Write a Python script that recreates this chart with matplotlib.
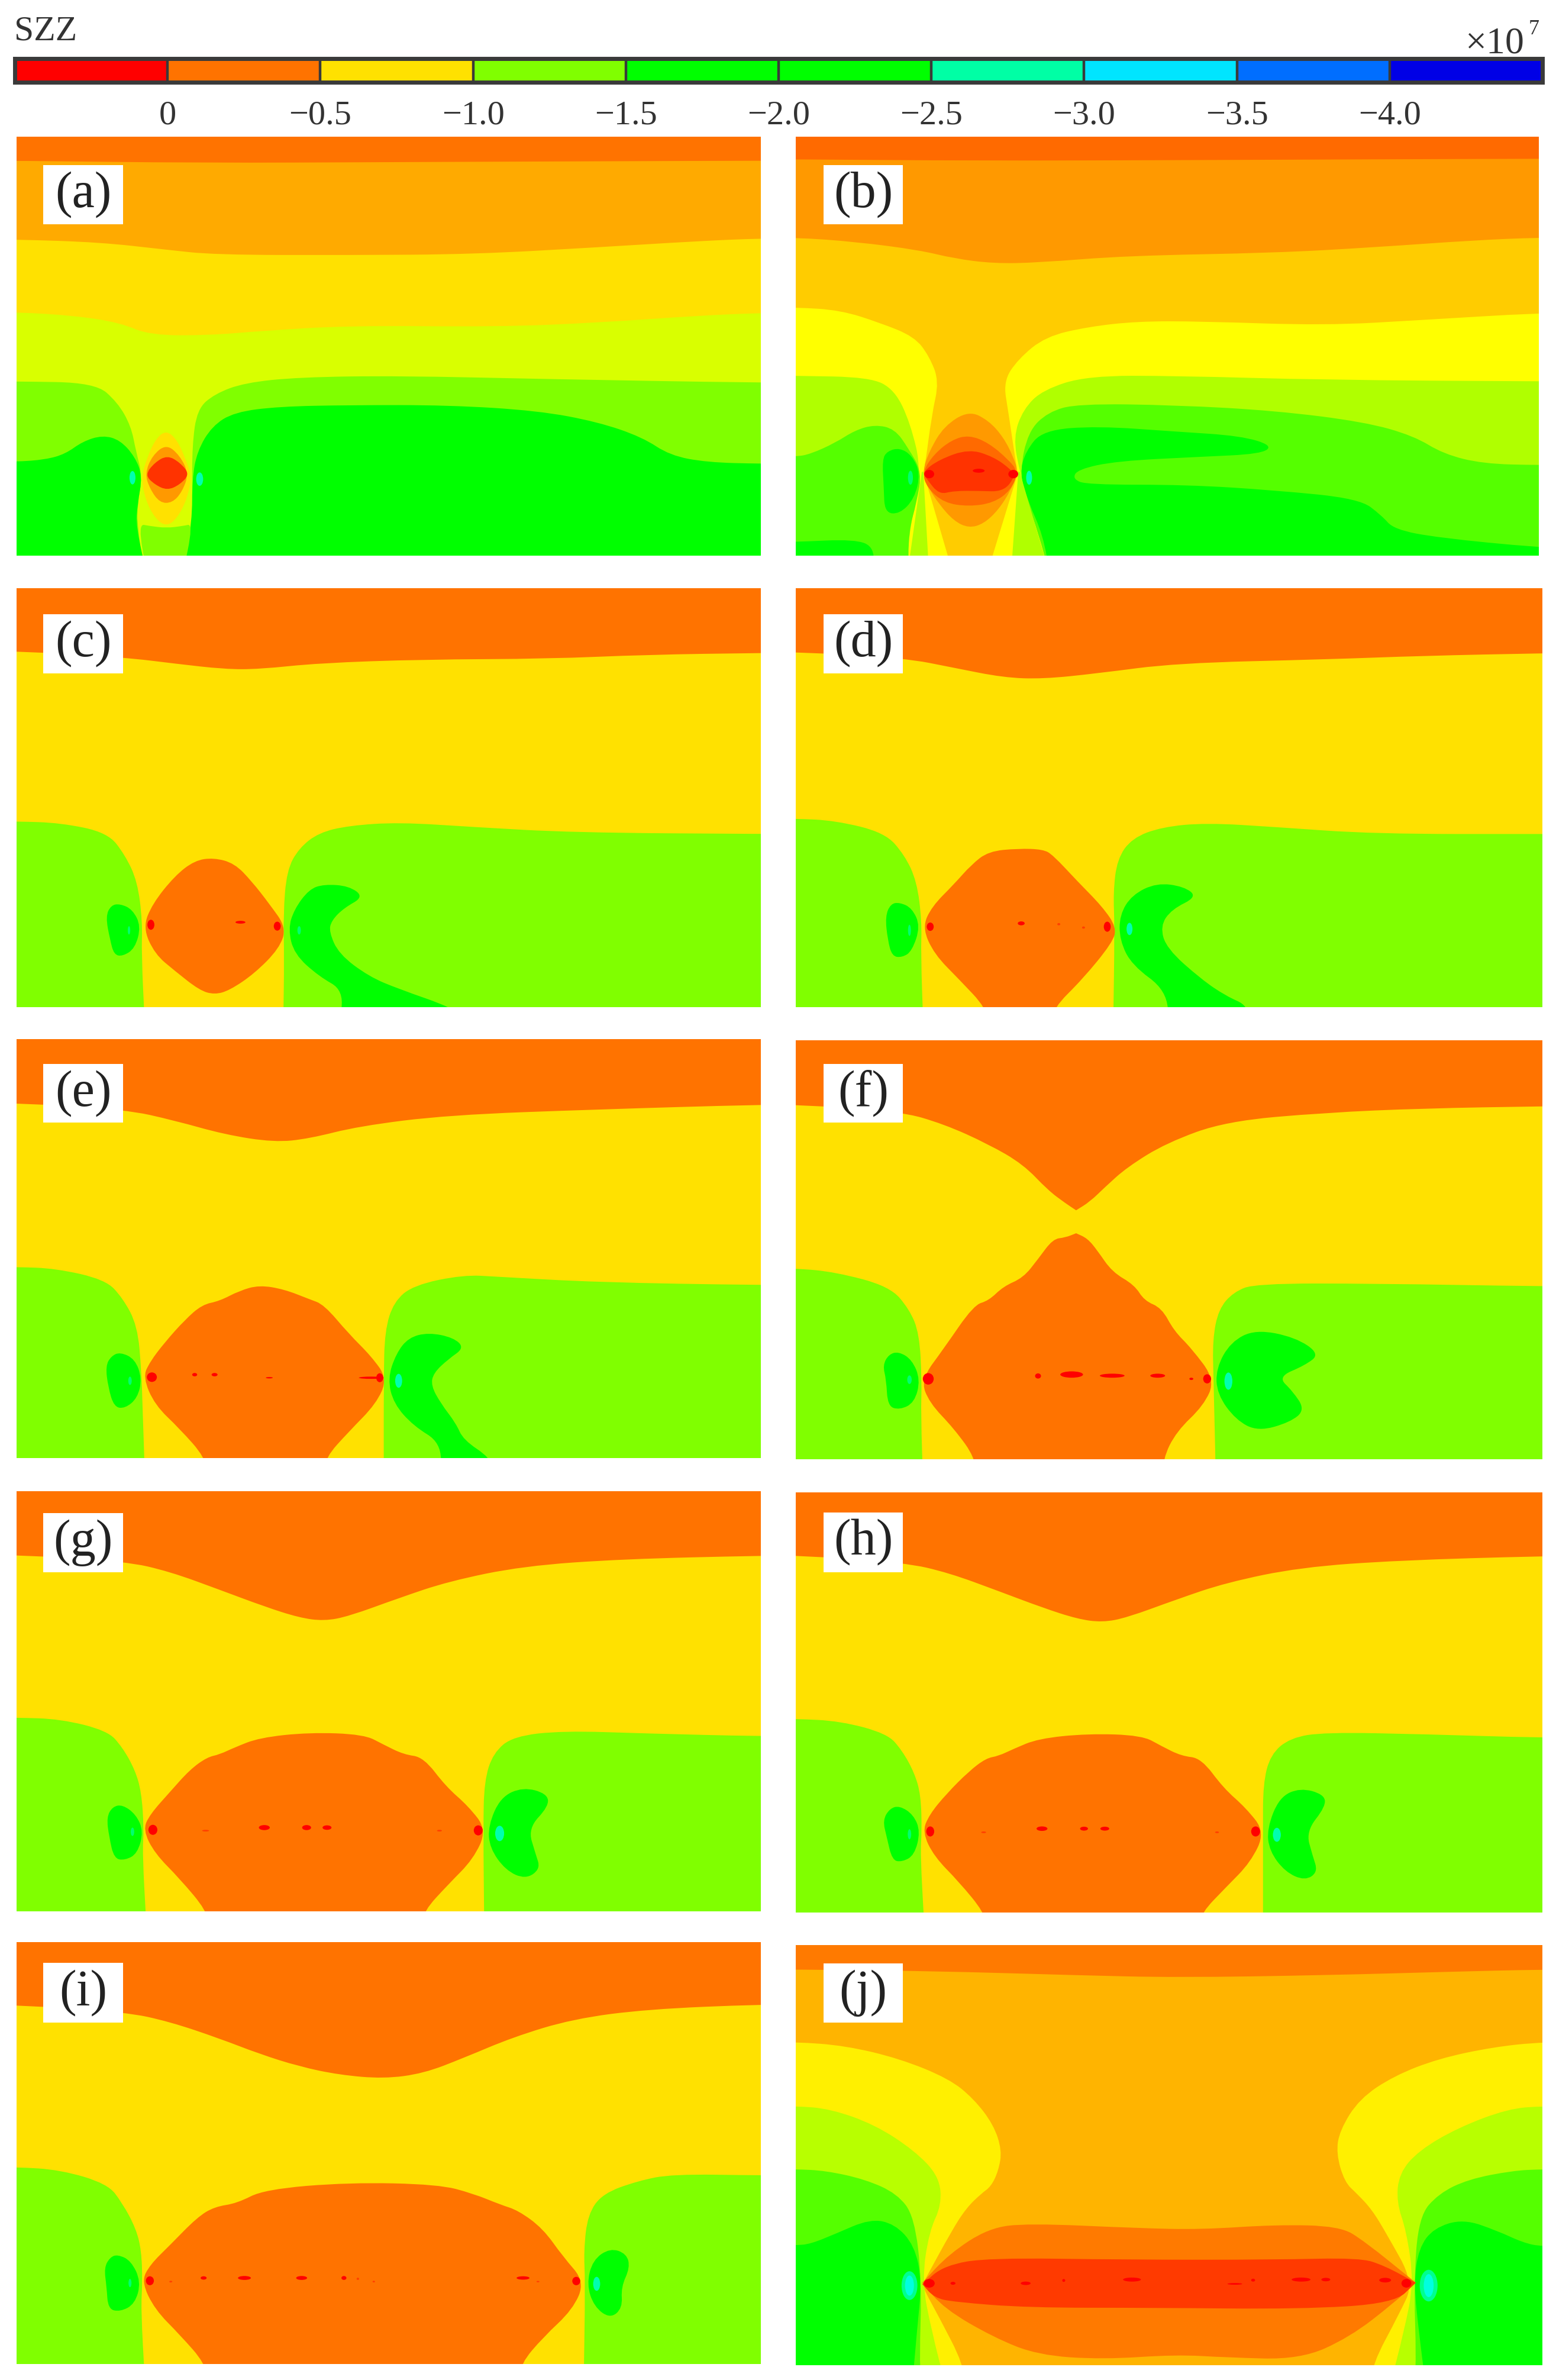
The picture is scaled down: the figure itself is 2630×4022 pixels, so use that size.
import matplotlib
matplotlib.use("Agg")
import matplotlib.pyplot as plt
from matplotlib.path import Path
from matplotlib.patches import PathPatch, Rectangle, Ellipse

plt.rcParams['font.family'] = ['Liberation Serif', 'DejaVu Serif']

W, H = 2630, 4022

# colour bar
cb_edges = [0.5, 0.0, -0.5, -1.0, -1.5, -2.0, -2.5, -3.0, -3.5, -4.0, -4.5]
cb_ticks = [0.0, -0.5, -1.0, -1.5, -2.0, -2.5, -3.0, -3.5, -4.0]
cb_labels = ['0', '\u22120.5', '\u22121.0', '\u22121.5', '\u22122.0', '\u22122.5', '\u22123.0', '\u22123.5', '\u22124.0']
cb_colors = ['#ff0000', '#ff7300', '#ffe100', '#80ff00', '#00ff00', '#00ff00', '#00ffa5', '#00e5ff', '#006eff', '#0000e6']

ORANGE = '#ff7300'
YELLOW = '#ffe100'
LIME = '#80ff00'
GREEN = '#00ff00'
RED = '#ff0000'
CYAN = '#00ffb0'
SOFT = '#00ff70'

# panel a
a_band1 = [(-100, 110), (32, 110), (400, 118), (800, 115), (1200, 112), (1528, 110), (1700, 110), (1700, 1700), (-100, 1700)]
a_band2 = [(-100, 390), (32, 392), (200, 402), (330, 428), (430, 447), (700, 448), (950, 445), (1200, 420), (1400, 398), (1528, 388), (1700, 385), (1700, 1700), (-100, 1700)]
a_band3 = [(-100, 650), (32, 652), (150, 665), (240, 690), (300, 735), (420, 735), (520, 720), (700, 700), (1000, 705), (1200, 690), (1400, 665), (1528, 655), (1700, 650), (1700, 1700), (-100, 1700)]
a_lime_l = [(-100, 900), (32, 900), (190, 905), (235, 975), (262, 1060), (272, 1150), (285, 1240), (275, 1340), (275, 1420), (290, 1600), (-100, 1700)]
a_lime_r = [(1700, 905), (1528, 905), (1100, 892), (800, 880), (600, 885), (490, 905), (430, 945), (395, 1000), (385, 1130), (385, 1300), (385, 1420), (365, 1600), (1700, 1700)]
a_stem = [(276, 1410), (300, 1418), (333, 1425), (366, 1418), (387, 1410), (365, 1600), (295, 1600)]
a_green_l = [(-100, 1190), (32, 1188), (90, 1180), (130, 1160), (165, 1115), (205, 1093), (240, 1110), (270, 1170), (285, 1240), (275, 1340), (272, 1420), (295, 1600), (-100, 1700)]
a_green_r = [(1700, 1197), (1528, 1195), (1420, 1190), (1345, 1165), (1290, 1100), (1200, 1045), (1080, 1005), (900, 985), (700, 985), (560, 990), (470, 1010), (425, 1060), (395, 1150), (385, 1250), (385, 1400), (365, 1600), (1700, 1700)]
a_oval1 = [(333, 1075), (355, 1110), (372, 1180), (384, 1240), (375, 1320), (355, 1390), (333, 1420), (310, 1390), (290, 1320), (283, 1240), (295, 1170), (312, 1105)]
a_oval2 = [(333, 1125), (360, 1165), (378, 1230), (365, 1295), (345, 1335), (320, 1335), (300, 1285), (290, 1230), (305, 1165)]
a_oval3 = [(335, 1165), (360, 1190), (380, 1232), (360, 1270), (335, 1290), (310, 1270), (290, 1235), (310, 1190)]
a_spots = [(265, 1245, 12, 48, CYAN), (400, 1250, 14, 48, CYAN)]

# panel b
b_band1 = [(-100, 105), (30, 105), (400, 110), (800, 108), (1200, 105), (1533, 103), (1700, 103), (1700, 1700), (-100, 1700)]
b_band2 = [(-100, 383), (30, 385), (150, 400), (280, 430), (350, 460), (430, 478), (520, 475), (700, 450), (1000, 440), (1200, 420), (1400, 395), (1533, 385), (1700, 383), (1700, 1700), (-100, 1700)]
b_yellow_l = [(-100, 633), (30, 635), (120, 645), (200, 690), (270, 740), (300, 810), (320, 900), (305, 1020), (290, 1224), (275, 1330), (295, 1600), (-100, 1700)]
b_yellow_r = [(1700, 650), (1533, 655), (1300, 680), (1100, 700), (850, 685), (720, 685), (620, 705), (535, 740), (480, 820), (450, 900), (460, 1010), (478, 1224), (490, 1340), (470, 1600), (1700, 1700)]
b_ygreen_l = [(-100, 878), (30, 880), (180, 885), (230, 930), (262, 1050), (285, 1224), (258, 1450), (255, 1600), (-100, 1700)]
b_ygreen_r = [(1700, 900), (1533, 900), (1100, 895), (800, 880), (620, 880), (530, 930), (490, 1000), (470, 1100), (483, 1224), (500, 1340), (520, 1440), (545, 1600), (1700, 1700)]
b_lime_l = [(-100, 1172), (30, 1170), (60, 1160), (110, 1120), (150, 1075), (190, 1055), (230, 1070), (258, 1140), (285, 1224), (275, 1330), (258, 1440), (258, 1600), (-100, 1700)]
b_lime_r = [(1700, 1200), (1533, 1200), (1420, 1195), (1340, 1160), (1280, 1095), (1180, 1045), (1000, 1005), (800, 985), (600, 980), (540, 1010), (500, 1080), (483, 1224), (500, 1340), (520, 1440), (545, 1600), (1700, 1700)]
b_green_r = [(495, 1150), (530, 1075), (640, 1060), (800, 1080), (930, 1095), (995, 1130), (970, 1160), (850, 1170), (680, 1185), (600, 1215), (590, 1250), (620, 1270), (820, 1270), (1000, 1290), (1170, 1320), (1215, 1380), (1240, 1430), (1330, 1460), (1533, 1495), (1700, 1510), (1700, 1700), (545, 1600), (530, 1450), (500, 1330), (483, 1230)]
b_green_l = [(240, 1138), (265, 1165), (282, 1230), (270, 1320), (240, 1375), (210, 1370), (208, 1280), (205, 1180), (215, 1150)]
b_green_c = [(-100, 1480), (30, 1475), (150, 1465), (190, 1495), (185, 1600), (-100, 1650)]
b_wedge1 = [(285, 1224), (285, 1224), (255, 1600), (545, 1600), (483, 1224), (483, 1224)]
b_wedge2 = [(288, 1224), (288, 1224), (300, 1600), (465, 1600), (480, 1224), (480, 1224)]
b_wedge3 = [(288, 1224), (288, 1224), (350, 1600), (415, 1600), (480, 1224), (480, 1224)]
b_lens1 = [(380, 1005), (420, 1040), (450, 1100), (470, 1170), (480, 1224), (465, 1290), (440, 1360), (410, 1410), (380, 1425), (350, 1400), (320, 1340), (298, 1280), (286, 1224), (300, 1150), (330, 1060)]
b_lens2 = [(380, 1092), (420, 1120), (460, 1180), (480, 1224), (465, 1290), (430, 1335), (380, 1348), (330, 1335), (295, 1280), (286, 1224), (310, 1160), (345, 1110)]
b_lens3 = [(380, 1142), (430, 1170), (465, 1215), (474, 1240), (450, 1295), (400, 1292), (350, 1292), (320, 1305), (295, 1250), (286, 1225), (320, 1180)]
b_spots = [(300, 1232, 20, 30, RED), (400, 1220, 24, 14, RED), (470, 1232, 20, 30, RED), (262, 1245, 10, 50, SOFT), (502, 1245, 12, 50, CYAN)]

# panel c
c_band = [(-100, 253), (32, 255), (250, 278), (350, 300), (450, 320), (520, 320), (640, 298), (850, 285), (1100, 283), (1300, 268), (1528, 262), (1700, 260), (1700, 1700), (-100, 1700)]
c_lime_l = [(-100, 863), (32, 865), (120, 870), (215, 905), (250, 985), (275, 1080), (285, 1224), (283, 1340), (290, 1600), (-100, 1700)]
c_lime_r = [(1700, 910), (1528, 910), (1150, 905), (950, 885), (800, 868), (700, 880), (640, 905), (600, 960), (575, 1040), (568, 1200), (570, 1350), (568, 1600), (1700, 1700)]
c_lens = [(428, 995), (470, 1015), (505, 1080), (540, 1160), (574, 1245), (560, 1320), (510, 1410), (460, 1470), (430, 1485), (400, 1470), (350, 1400), (310, 1340), (286, 1245), (305, 1160), (350, 1060), (390, 1005)]
c_green_l = [(240, 1160), (265, 1180), (282, 1240), (270, 1320), (245, 1348), (228, 1342), (220, 1290), (211, 1205), (222, 1165)]
c_green_r = [(650, 1090), (700, 1096), (730, 1135), (690, 1175), (665, 1220), (660, 1260), (680, 1340), (740, 1420), (800, 1465), (910, 1533), (960, 1600), (680, 1600), (690, 1470), (640, 1420), (590, 1340), (578, 1250), (590, 1180), (620, 1108)]
c_spots = [(302, 1235, 14, 36, RED), (482, 1226, 20, 10, RED), (556, 1240, 14, 32, RED), (258, 1255, 5, 30, SOFT), (600, 1255, 7, 30, SOFT)]

# panel d
d_band = [(-100, 256), (30, 258), (250, 280), (350, 315), (450, 350), (530, 355), (640, 335), (800, 298), (1100, 285), (1300, 272), (1540, 263), (1700, 260), (1700, 1700), (-100, 1700)]
d_lime_l = [(-100, 853), (30, 855), (110, 862), (210, 905), (250, 985), (275, 1080), (285, 1224), (283, 1340), (288, 1600), (-100, 1700)]
d_lime_r = [(1700, 910), (1540, 910), (1200, 910), (1000, 885), (860, 870), (770, 885), (710, 925), (680, 1000), (672, 1120), (675, 1240), (672, 1600), (1700, 1700)]
d_lens = [(480, 962), (420, 972), (385, 1020), (350, 1090), (305, 1170), (286, 1245), (310, 1340), (360, 1430), (416, 1535), (416, 1600), (550, 1600), (550, 1535), (610, 1430), (670, 1300), (679, 1245), (650, 1170), (600, 1080), (550, 985), (530, 965)]
d_green_l = [(240, 1155), (265, 1175), (282, 1240), (265, 1330), (245, 1352), (225, 1348), (216, 1290), (211, 1205), (222, 1160)]
d_green_r = [(760, 1085), (815, 1098), (842, 1135), (790, 1180), (767, 1240), (780, 1320), (850, 1430), (900, 1490), (945, 1525), (945, 1600), (785, 1600), (780, 1470), (710, 1380), (685, 1290), (685, 1200), (710, 1128)]
d_spots = [(302, 1242, 14, 30, RED), (486, 1230, 14, 14, RED), (660, 1242, 14, 36, RED), (562, 1233, 6, 8, '#ff4000'), (612, 1245, 6, 8, '#ff4000'), (705, 1250, 12, 44, CYAN), (260, 1255, 6, 40, SOFT)]

# panel e
e_band = [(-100, 260), (32, 262), (250, 285), (350, 325), (450, 375), (550, 403), (620, 390), (720, 345), (900, 305), (1200, 285), (1528, 268), (1700, 265), (1700, 1700), (-100, 1700)]
e_lime_l = [(-100, 848), (32, 850), (110, 855), (210, 895), (245, 960), (275, 1060), (283, 1224), (285, 1340), (290, 1600), (-100, 1700)]
e_lime_r = [(1700, 915), (1528, 915), (1200, 905), (1000, 885), (930, 878), (830, 915), (790, 975), (772, 1080), (770, 1250), (770, 1600), (1700, 1700)]
e_lens = [(520, 915), (480, 935), (440, 972), (405, 985), (370, 1040), (330, 1120), (300, 1190), (286, 1245), (310, 1345), (360, 1430), (412, 1535), (412, 1600), (652, 1600), (652, 1535), (700, 1440), (755, 1340), (777, 1250), (745, 1170), (700, 1090), (650, 985), (620, 965), (570, 930)]
e_green_l = [(240, 1155), (270, 1180), (284, 1250), (275, 1320), (250, 1357), (228, 1352), (216, 1280), (211, 1205), (222, 1170)]
e_green_r = [(860, 1085), (910, 1103), (932, 1140), (900, 1180), (870, 1230), (865, 1275), (885, 1340), (915, 1410), (930, 1470), (985, 1535), (995, 1600), (885, 1600), (885, 1480), (830, 1420), (790, 1340), (778, 1250), (795, 1160), (820, 1103)]
e_spots = [(304, 1245, 20, 34, RED), (390, 1236, 10, 12, RED), (430, 1236, 12, 12, RED), (540, 1247, 14, 5, RED), (745, 1247, 50, 8, RED), (762, 1247, 14, 32, RED), (800, 1258, 14, 50, CYAN), (260, 1258, 7, 30, SOFT)]

# panel f
f_band = [(-100, 260), (30, 262), (240, 285), (330, 330), (420, 400), (490, 470), (540, 560), (575, 605), (597, 630), (597, 630), (625, 600), (655, 550), (700, 480), (780, 395), (900, 320), (1100, 290), (1300, 275), (1540, 268), (1700, 265), (1700, 1700), (-100, 1700)]
f_lime_l = [(-100, 830), (30, 832), (110, 845), (220, 895), (260, 975), (280, 1060), (285, 1224), (283, 1340), (288, 1600), (-100, 1700)]
f_lime_r = [(1700, 895), (1540, 895), (1200, 885), (960, 885), (915, 915), (885, 975), (873, 1080), (875, 1224), (880, 1600), (1700, 1700)]
f_lens = [(597, 710), (597, 710), (620, 728), (640, 770), (670, 845), (715, 890), (735, 945), (770, 970), (795, 1050), (830, 1110), (878, 1220), (855, 1310), (800, 1400), (772, 1497), (772, 1600), (395, 1600), (395, 1497), (350, 1390), (300, 1300), (283, 1220), (330, 1110), (390, 960), (420, 945), (450, 895), (490, 865), (520, 800), (550, 730), (575, 725)]
f_green_l = [(238, 1122), (265, 1150), (282, 1220), (270, 1300), (240, 1325), (216, 1312), (213, 1220), (206, 1170), (218, 1132)]
f_green_r = [(960, 1045), (1040, 1072), (1090, 1130), (1060, 1170), (1005, 1210), (1035, 1260), (1060, 1325), (1030, 1368), (965, 1400), (920, 1360), (882, 1270), (880, 1180), (910, 1088)]
f_spots = [(298, 1217, 22, 40, RED), (520, 1207, 12, 18, RED), (588, 1202, 46, 22, RED), (670, 1206, 50, 14, RED), (762, 1206, 30, 14, RED), (830, 1217, 8, 8, RED), (862, 1217, 16, 32, RED), (905, 1225, 16, 60, CYAN), (260, 1220, 9, 30, SOFT)]

# panel g
g_band = [(-100, 268), (32, 270), (250, 293), (340, 330), (440, 395), (530, 455), (600, 495), (650, 507), (700, 490), (800, 425), (900, 365), (1050, 310), (1250, 285), (1528, 273), (1700, 270), (1700, 1700), (-100, 1700)]
g_lime_l = [(-100, 851), (32, 853), (120, 858), (215, 900), (245, 960), (270, 1040), (283, 1120), (288, 1250), (285, 1340), (293, 1600), (-100, 1700)]
g_lime_r = [(1700, 920), (1528, 920), (1300, 910), (1130, 900), (1030, 920), (990, 980), (972, 1080), (970, 1250), (972, 1600), (1700, 1700)]
g_lens = [(620, 906), (520, 925), (470, 960), (440, 985), (415, 995), (380, 1040), (340, 1120), (300, 1200), (286, 1255), (310, 1340), (360, 1430), (415, 1547), (415, 1600), (850, 1600), (850, 1547), (900, 1450), (950, 1360), (977, 1255), (940, 1170), (895, 1100), (850, 995), (810, 985), (770, 950), (730, 913)]
g_green_l = [(245, 1165), (272, 1200), (287, 1260), (275, 1340), (250, 1364), (228, 1358), (218, 1280), (213, 1210), (225, 1172)]
g_green_r = [(1050, 1102), (1098, 1125), (1102, 1170), (1060, 1250), (1075, 1340), (1085, 1395), (1055, 1432), (1015, 1400), (983, 1320), (980, 1240), (1005, 1138)]
g_spots = [(306, 1255, 18, 36, RED), (412, 1258, 14, 6, '#ff4000'), (530, 1247, 22, 18, RED), (615, 1247, 18, 18, RED), (656, 1247, 18, 16, RED), (882, 1258, 10, 6, '#ff4000'), (960, 1257, 18, 36, RED), (1003, 1268, 18, 55, CYAN), (265, 1262, 7, 30, SOFT)]

# panel h
h_band = [(-100, 270), (30, 272), (250, 298), (340, 335), (440, 400), (530, 460), (600, 500), (650, 512), (700, 495), (800, 430), (900, 370), (1050, 315), (1250, 290), (1540, 275), (1700, 272), (1700, 1700), (-100, 1700)]
h_lime_l = [(-100, 855), (30, 857), (120, 865), (215, 910), (245, 970), (270, 1050), (283, 1130), (285, 1260), (282, 1340), (290, 1600), (-100, 1700)]
h_lime_r = [(1700, 925), (1540, 925), (1300, 912), (1100, 905), (1030, 925), (990, 985), (975, 1090), (975, 1260), (975, 1600), (1700, 1700)]
h_lens = [(620, 910), (520, 928), (470, 965), (440, 990), (415, 998), (380, 1045), (335, 1125), (300, 1200), (286, 1262), (310, 1350), (360, 1440), (412, 1552), (412, 1600), (850, 1600), (850, 1552), (900, 1460), (950, 1370), (979, 1262), (940, 1175), (895, 1105), (850, 998), (810, 990), (770, 955), (730, 916)]
h_green_l = [(240, 1168), (268, 1200), (282, 1260), (270, 1345), (245, 1369), (225, 1363), (214, 1280), (206, 1220), (220, 1178)]
h_green_r = [(1050, 1104), (1098, 1127), (1102, 1170), (1062, 1260), (1075, 1345), (1086, 1405), (1060, 1436), (1020, 1405), (988, 1330), (983, 1250), (1008, 1138)]
h_spots = [(302, 1260, 16, 36, RED), (410, 1263, 10, 6, '#ff4000'), (528, 1250, 22, 16, RED), (613, 1250, 16, 14, RED), (655, 1250, 18, 14, RED), (882, 1263, 8, 6, '#ff4000'), (960, 1260, 18, 36, RED), (1003, 1272, 16, 50, CYAN), (260, 1270, 7, 36, SOFT)]

# panel i
i_band = [(-100, 248), (32, 250), (250, 275), (340, 310), (440, 370), (520, 425), (600, 470), (680, 500), (770, 514), (850, 495), (930, 440), (1030, 365), (1150, 300), (1300, 265), (1528, 248), (1700, 245), (1700, 1700), (-100, 1700)]
i_lime_l = [(-100, 828), (32, 830), (120, 840), (215, 890), (245, 960), (272, 1050), (283, 1130), (285, 1240), (282, 1340), (290, 1600), (-100, 1700)]
i_lime_r = [(1700, 860), (1528, 860), (1350, 855), (1280, 880), (1210, 925), (1180, 1000), (1172, 1130), (1175, 1240), (1172, 1600), (1700, 1700)]
i_lens = [(700, 885), (530, 910), (475, 960), (430, 972), (395, 1010), (340, 1110), (300, 1180), (283, 1240), (310, 1340), (360, 1430), (412, 1535), (412, 1600), (1045, 1600), (1045, 1535), (1090, 1440), (1150, 1340), (1174, 1240), (1130, 1150), (1090, 1050), (1040, 985), (1005, 965), (950, 925), (880, 892)]
i_green_l = [(235, 1143), (262, 1165), (282, 1240), (270, 1320), (240, 1348), (216, 1338), (213, 1260), (208, 1190), (220, 1153)]
i_green_r = [(1225, 1120), (1258, 1140), (1265, 1190), (1247, 1260), (1250, 1335), (1225, 1372), (1193, 1330), (1178, 1250), (1190, 1163)]
i_spots = [(300, 1237, 16, 32, RED), (342, 1240, 6, 6, '#ff4000'), (408, 1227, 12, 12, RED), (490, 1227, 26, 14, RED), (605, 1227, 22, 14, RED), (690, 1227, 10, 14, RED), (718, 1230, 5, 8, '#ff4000'), (750, 1240, 5, 6, '#ff4000'), (1050, 1227, 26, 12, RED), (1080, 1240, 6, 5, '#ff4000'), (1157, 1238, 16, 30, RED), (1198, 1248, 14, 50, CYAN), (260, 1245, 6, 30, SOFT)]

# panel j
j_band = [(-100, 140), (30, 140), (300, 145), (600, 160), (800, 168), (1100, 160), (1350, 148), (1540, 140), (1700, 140), (1700, 1700), (-100, 1700)]
j_yellow_l = [(-100, 390), (30, 392), (130, 405), (240, 450), (340, 520), (390, 590), (430, 680), (447, 770), (440, 840), (425, 895), (405, 920), (375, 970), (345, 1050), (290, 1224), (285, 1240), (320, 1350), (370, 1517), (370, 1600), (-100, 1700)]
j_yellow_r = [(1700, 390), (1540, 392), (1440, 410), (1330, 450), (1240, 510), (1170, 590), (1130, 700), (1123, 780), (1140, 880), (1165, 920), (1195, 975), (1225, 1060), (1280, 1230), (1250, 1340), (1195, 1517), (1195, 1600), (1700, 1700)]
j_ygreen_l = [(-100, 613), (30, 615), (100, 625), (190, 680), (270, 770), (320, 860), (325, 960), (300, 1050), (285, 1224), (305, 1400), (335, 1600), (-100, 1700)]
j_ygreen_r = [(1700, 613), (1540, 615), (1470, 625), (1370, 690), (1290, 770), (1250, 850), (1245, 950), (1265, 1050), (1280, 1230), (1260, 1400), (1230, 1600), (1700, 1700)]
j_lime_l = [(-100, 833), (30, 835), (90, 840), (170, 870), (235, 920), (270, 1000), (285, 1224), (280, 1500), (285, 1600), (-100, 1700)]
j_lime_r = [(1700, 833), (1540, 835), (1480, 840), (1390, 870), (1330, 920), (1290, 1000), (1280, 1230), (1285, 1500), (1280, 1600), (1700, 1700)]
j_green_l = [(-100, 1105), (30, 1100), (60, 1095), (110, 1060), (180, 1008), (230, 1025), (270, 1100), (285, 1224), (275, 1400), (265, 1600), (-100, 1700)]
j_green_r = [(1700, 1110), (1540, 1105), (1500, 1090), (1450, 1050), (1380, 1008), (1320, 1040), (1290, 1110), (1280, 1230), (1290, 1400), (1305, 1600), (1700, 1700)]
j_lens1 = [(286, 1230), (286, 1230), (340, 1130), (420, 1040), (500, 1023), (720, 1040), (850, 1045), (1000, 1028), (1130, 1033), (1180, 1085), (1284, 1230), (1284, 1230), (1240, 1300), (1150, 1420), (1050, 1497), (900, 1490), (800, 1480), (650, 1497), (520, 1482), (430, 1420), (330, 1320)]
j_lens2 = [(286, 1235), (286, 1235), (330, 1170), (420, 1143), (700, 1150), (1000, 1150), (1170, 1143), (1220, 1170), (1284, 1230), (1284, 1230), (1240, 1302), (1050, 1322), (750, 1317), (500, 1317), (350, 1297), (310, 1282)]
j_spots = [(300, 1232, 22, 30, RED), (348, 1232, 10, 10, RED), (495, 1232, 20, 12, RED), (572, 1222, 6, 10, RED), (710, 1219, 36, 14, RED), (918, 1234, 30, 6, RED), (955, 1221, 8, 10, RED), (1052, 1219, 38, 14, RED), (1102, 1219, 18, 12, RED), (1222, 1221, 24, 16, RED), (1265, 1232, 20, 30, RED),
           (260, 1240, 32, 100, '#00ff90'), (1310, 1240, 36, 110, '#00ff90'), (260, 1240, 18, 70, '#00ffe0'), (1310, 1240, 20, 80, '#00ffe0')]


def smooth_patch(points, color):
    # quadratic curve through the midpoints of the read outline,
    # points outside the panel stay sharp corners so the edges keep their place
    n = len(points)
    mid = lambda p, q: ((p[0] + q[0]) / 2, (p[1] + q[1]) / 2)
    verts = [mid(points[-1], points[0])]
    codes = [Path.MOVETO]
    for k in range(n):
        p = points[k]
        code = Path.LINETO if (p[0] < 0 or p[0] >= 1700 or p[1] >= 1560) else Path.CURVE3
        verts += [p, mid(p, points[(k + 1) % n])]
        codes += [code, code]
    return PathPatch(Path(verts, codes), facecolor=color, edgecolor='none', lw=0)


def std_layers(band, lime_l, lime_r, lens, green_l, green_r):
    return [(YELLOW, band), (LIME, lime_l), (LIME, lime_r), (ORANGE, lens), (GREEN, green_l), (GREEN, green_r)]


fig = plt.figure(figsize=(W / 100, H / 100), dpi=100, facecolor='white')


def px_axes(x0, y0, x1, y1):
    return fig.add_axes([x0 / W, 1 - y1 / H, (x1 - x0) / W, (y1 - y0) / H])


# label, pixel box, limits of the reading grid, base colour, layers, spots, label box
panels = [
    ('(a)', (28, 231, 1286, 939), (32, 1528, 1524, 24), ORANGE,
     [('#ffaa00', a_band1), (YELLOW, a_band2), ('#d9ff00', a_band3), (LIME, a_lime_l), (LIME, a_lime_r), (GREEN, a_green_l), (GREEN, a_green_r),
      (LIME, a_stem), (YELLOW, a_oval1), ('#ff9900', a_oval2), ('#ff3300', a_oval3)], a_spots, (86, 246, 126, 338)),
    ('(b)', (1345, 231, 2601, 939), (30, 1533, 1524, 24), '#ff6a00',
     [('#ff9900', b_band1), ('#ffcc00', b_band2), ('#ffff00', b_yellow_l), ('#ffff00', b_yellow_r), ('#b0ff00', b_ygreen_l), ('#b0ff00', b_ygreen_r),
      ('#55ff00', b_lime_l), ('#55ff00', b_lime_r), (GREEN, b_green_r), (GREEN, b_green_l), (GREEN, b_green_c),
      ('#b0ff00', b_wedge1), ('#ffff00', b_wedge2), ('#ffcc00', b_wedge3),
      ('#ff9900', b_lens1), ('#ff6a00', b_lens2), ('#ff3300', b_lens3)], b_spots, (86, 247, 126, 338)),
    ('(c)', (28, 994, 1286, 1702), (32, 1528, 1530, 30), ORANGE,
     std_layers(c_band, c_lime_l, c_lime_r, c_lens, c_green_l, c_green_r), c_spots, (86, 246, 123, 336)),
    ('(d)', (1345, 994, 2607, 1702), (30, 1540, 1530, 30), ORANGE,
     std_layers(d_band, d_lime_l, d_lime_r, d_lens, d_green_l, d_green_r), d_spots, (86, 247, 123, 336)),
    ('(e)', (28, 1756, 1286, 2464), (32, 1528, 1535, 33), ORANGE,
     std_layers(e_band, e_lime_l, e_lime_r, e_lens, e_green_l, e_green_r), e_spots, (86, 246, 122, 333)),
    ('(f)', (1345, 1758, 2607, 2466), (30, 1540, 1497, 38), ORANGE,
     std_layers(f_band, f_lime_l, f_lime_r, f_lens, f_green_l, f_green_r), f_spots, (86, 247, 120, 325)),
    ('(g)', (28, 2520, 1286, 3230), (32, 1528, 1547, 42), ORANGE,
     std_layers(g_band, g_lime_l, g_lime_r, g_lens, g_green_l, g_green_r), g_spots, (86, 246, 120, 332)),
    ('(h)', (1345, 2522, 2607, 3232), (30, 1540, 1550, 47), ORANGE,
     std_layers(h_band, h_lime_l, h_lime_r, h_lens, h_green_l, h_green_r), h_spots, (86, 247, 120, 332)),
    ('(i)', (28, 3282, 1286, 3995), (32, 1528, 1535, 25), ORANGE,
     std_layers(i_band, i_lime_l, i_lime_r, i_lens, i_green_l, i_green_r), i_spots, (86, 246, 100, 313)),
    ('(j)', (1345, 3287, 2607, 3997), (30, 1540, 1517, 55), '#ff7a00',
     [('#ffb400', j_band), ('#fff000', j_yellow_l), ('#fff000', j_yellow_r), ('#b8ff00', j_ygreen_l), ('#b8ff00', j_ygreen_r),
      ('#55ff00', j_lime_l), ('#55ff00', j_lime_r), (GREEN, j_green_l), (GREEN, j_green_r),
      ('#ff7a00', j_lens1), ('#ff3a00', j_lens2)], j_spots, (86, 247, 118, 325)),
]

for label, box, lims, base, layers, spots, lab_box in panels:
    ax = px_axes(*box)
    ax.set_xlim(lims[0], lims[1])
    ax.set_ylim(lims[2], lims[3])
    ax.set_facecolor(base)
    ax.set_xticks([])
    ax.set_yticks([])
    for s in ax.spines.values():
        s.set_visible(False)
    for color, pts in layers:
        ax.add_patch(smooth_patch(pts, color))
    for x, y, w, h, color in spots:
        ax.add_patch(Ellipse((x, y), w, h, facecolor=color, edgecolor='none'))
    ax.add_patch(Rectangle((lab_box[0], lab_box[2]), lab_box[1] - lab_box[0], lab_box[3] - lab_box[2],
                           facecolor='white', edgecolor='none', zorder=5))
    ax.text((lab_box[0] + lab_box[1]) / 2, (lab_box[2] + lab_box[3]) / 2, label, ha='center', va='center',
            fontsize=62, color='#222222', zorder=6)

# colour bar
cax = px_axes(25, 99, 2607, 139)
cax.set_xlim(cb_edges[0], cb_edges[-1])
cax.set_ylim(0, 1)
for k, color in enumerate(cb_colors):
    cax.bar(cb_edges[k], 1, width=cb_edges[k + 1] - cb_edges[k], align='edge', color=color, lw=0)
cax.vlines(cb_ticks, 0, 1, color='#3a3a3a', lw=3.2)
cax.set_yticks([])
cax.set_xticks(cb_ticks)
cax.set_xticklabels(cb_labels, fontsize=42, color='#333333')
cax.tick_params(axis='x', length=0, pad=22)
for s in cax.spines.values():
    s.set_color('#3a3a3a')
    s.set_linewidth(5)

fig.text(24 / W, 1 - 68 / H, 'SZZ', fontsize=43, color='#333333', ha='left', va='baseline')
fig.text(2477 / W, 1 - 90 / H, '\u00d710', fontsize=46, color='#333333', ha='left', va='baseline')
fig.text(2584 / W, 1 - 58 / H, '7', fontsize=26, color='#333333', ha='left', va='baseline')

plt.savefig('out.png', dpi=100)
